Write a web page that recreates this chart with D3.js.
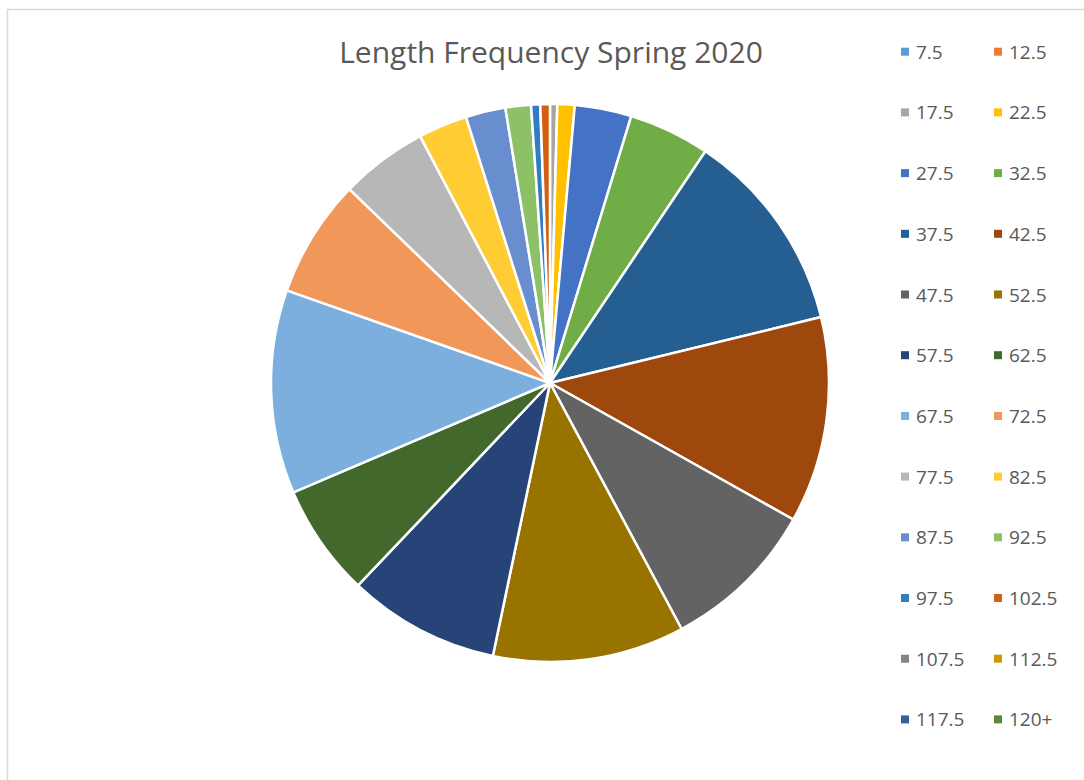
<!DOCTYPE html>
<html>
<head>
<meta charset="utf-8">
<script src="https://cdn.jsdelivr.net/npm/d3@7"></script>
<style>
  body { margin: 0; background: #fff; }
  svg { font-family: "Open Sans", "Noto Sans", sans-serif; }
</style>
</head>
<body>
<div id="chart"></div>
<script>
// length classes (legend order) and fish counts
const lengthClasses = ["7.5", "12.5", "17.5", "22.5", "27.5", "32.5", "37.5", "42.5",
  "47.5", "52.5", "57.5", "62.5", "67.5", "72.5", "77.5", "82.5",
  "87.5", "92.5", "97.5", "102.5", "107.5", "112.5", "117.5", "120+"];
const counts = [0, 0, 1.5, 3.6, 11.8, 16.9, 42.4, 42.9,
  32.5, 39.9, 31.6, 23.4, 42.4, 24.6, 18.2, 10.2,
  8.3, 5.3, 1.9, 2.0, 0, 0, 0, 0];
// Office theme palette, repeated darker / lighter
const sliceColors = ["#5B9BD5", "#ED7D31", "#A5A5A5", "#FFC000", "#4472C4", "#70AD47",
  "#255E91", "#9E480E", "#636363", "#997300", "#264478", "#43682B",
  "#7CAFDD", "#F1975A", "#B7B7B7", "#FFCD33", "#698ED0", "#8CC168",
  "#327DC2", "#D26012", "#848484", "#CC9A00", "#3A5FA0", "#5A8A39"];
const title = "Length Frequency Spring 2020";

const width = 1084, height = 780;
const svg = d3.select("#chart").append("svg")
    .attr("width", width)
    .attr("height", height);

// chart area border (runs off the right and bottom edges)
svg.append("rect")
    .attr("x", 7.5).attr("y", 9.5)
    .attr("width", width).attr("height", height)
    .attr("fill", "#fff")
    .attr("stroke", "#d9d9d9")
    .attr("stroke-width", 1.5);

svg.append("text")
    .attr("x", 551).attr("y", 63)
    .attr("text-anchor", "middle")
    .attr("fill", "#595959")
    .style("font-size", "30px")
    .text(title);

const data = lengthClasses.map((name, i) => ({ name, value: counts[i] }));
const color = d3.scaleOrdinal().domain(lengthClasses).range(sliceColors);

const pie = d3.pie().sort(null).value(d => d.value);
const arc = d3.arc().innerRadius(0).outerRadius(279);

const g = svg.append("g").attr("transform", "translate(550,383)");
g.selectAll("path")
  .data(pie(data).filter(d => d.data.value > 0))
  .enter().append("path")
    .attr("d", arc)
    .attr("fill", d => color(d.data.name))
    .attr("stroke", "#fff")
    .attr("stroke-width", 2.5)
    .attr("stroke-linejoin", "round");

// legend: two columns
const legend = svg.append("g");
const item = legend.selectAll("g")
  .data(lengthClasses)
  .enter().append("g")
    .attr("transform", (d, i) => `translate(${i % 2 ? 994 : 901},${51.7 + Math.floor(i / 2) * 60.7})`);

item.append("rect")
    .attr("x", 0).attr("y", -4)
    .attr("width", 8).attr("height", 8)
    .attr("fill", d => color(d));

item.append("text")
    .attr("x", 15).attr("y", 7)
    .attr("fill", "#595959")
    .style("font-size", "19px")
    .text(d => d);
</script>
</body>
</html>
